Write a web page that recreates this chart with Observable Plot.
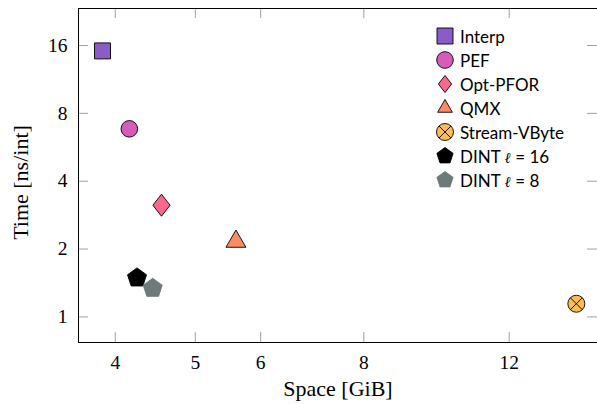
<!DOCTYPE html>
<html><head><meta charset="utf-8">
<script src="https://cdn.jsdelivr.net/npm/d3@7"></script>
<script src="https://cdn.jsdelivr.net/npm/@observablehq/plot@0.6"></script>
<style>
body{margin:0;background:#fff;}
#wrap{position:relative;width:597px;height:404px;overflow:hidden;}
#legend{position:absolute;left:435px;top:24px;font-family:Lato,sans-serif;font-size:17px;color:#000;}
.row{display:flex;align-items:center;height:24px;white-space:nowrap;}
.row svg{width:20px;height:24px;margin-right:5px;overflow:visible;}
.ell{font-family:"DejaVu Serif",serif;font-style:italic;font-size:15px;}
</style></head><body><div id="wrap"><div id="legend"></div></div>
<script>
// ---- data ----
const methods = ["Interp", "PEF", "Opt-PFOR", "QMX", "Stream-VByte", "DINT ℓ = 16", "DINT ℓ = 8"];
const space = [3.86, 4.16, 4.55, 5.60, 14.47, 4.25, 4.44];   // GiB
const time  = [15.14, 6.83, 3.13, 2.16, 1.144, 1.49, 1.34];  // ns/int
const xTicks = [4, 5, 6, 8, 12];
const yTicks = [1, 2, 4, 8, 16];
const xDomain = [3.61, 15.35];
const yDomain = [0.770, 23.35];

// ---- styles ----
const colors  = ["#8a5cc8", "#d65cb8", "#fa688c", "#fa8c64", "#f9bd57", "#000000", "#6e7a7a"];
const strokes = ["#000", "#000", "#000", "#000", "#000", "#000", "#6e7a7a"];
const shapes  = ["square", "circle", "diamond", "triangle", "otimes", "pentagon", "pentagon"];
const radii   = [8, 8.3, 11, 11.5, 8.5, 10, 10];

function poly(ctx, n, r) {
  for (let i = 0; i < n; i++) {
    const a = -Math.PI / 2 + i * 2 * Math.PI / n;
    const px = r * Math.cos(a), py = r * Math.sin(a);
    if (i === 0) ctx.moveTo(px, py); else ctx.lineTo(px, py);
  }
  ctx.closePath();
}
function sym(kind) {
  return {draw(ctx, size) {
    const r = Math.sqrt(size / Math.PI);
    if (kind === "square") { ctx.moveTo(-r, -r); ctx.lineTo(r, -r); ctx.lineTo(r, r); ctx.lineTo(-r, r); ctx.closePath(); }
    else if (kind === "circle") { ctx.moveTo(r, 0); ctx.arc(0, 0, r, 0, 2 * Math.PI); }
    else if (kind === "diamond") { const w = r * 0.78; ctx.moveTo(0, -r); ctx.lineTo(w, 0); ctx.lineTo(0, r); ctx.lineTo(-w, 0); ctx.closePath(); }
    else if (kind === "triangle") poly(ctx, 3, r);
    else if (kind === "pentagon") poly(ctx, 5, r);
    else if (kind === "otimes") {
      ctx.moveTo(r, 0); ctx.arc(0, 0, r, 0, 2 * Math.PI);
      const k = r * Math.SQRT1_2;
      ctx.moveTo(-k, -k); ctx.lineTo(k, k); ctx.moveTo(k, -k); ctx.lineTo(-k, k);
    }
  }};
}

const W = 597, H = 404, mL = 78, mR = 0, mT = 8, mB = 62;
const innerW = W - mL - mR, innerH = H - mT - mB, tick = 10;
const tickColor = "#a0a0a0";

const dotMarks = methods.map((m, i) => Plot.dot([{space: space[i], time: time[i]}], {
  x: "space", y: "time", symbol: sym(shapes[i]), r: radii[i],
  fill: colors[i], stroke: strokes[i], strokeWidth: 0.9
}));

const chart = Plot.plot({
  width: W, height: H,
  marginLeft: mL, marginRight: mR, marginTop: mT, marginBottom: mB,
  style: {fontFamily: "'Liberation Serif', serif", fontSize: "19px", color: "#000", background: "#fff"},
  x: {type: "log", domain: xDomain, axis: null},
  y: {type: "log", domain: yDomain, axis: null},
  marks: [
    // inward ticks on all four sides
    Plot.ruleX(xTicks, {x: d => d, insetTop: innerH - tick, stroke: tickColor}),
    Plot.ruleX(xTicks, {x: d => d, insetBottom: innerH - tick, stroke: tickColor}),
    Plot.ruleY(yTicks, {y: d => d, insetRight: innerW - tick, stroke: tickColor}),
    Plot.ruleY(yTicks, {y: d => d, insetLeft: innerW - tick, stroke: tickColor}),
    // frame lines (left, bottom, top)
    Plot.ruleX([xDomain[0]], {stroke: "#000", strokeWidth: 1}),
    Plot.ruleY([yDomain[0]], {stroke: "#000", strokeWidth: 1}),
    Plot.ruleY([yDomain[1]], {stroke: "#000", strokeWidth: 1}),
    // tick labels
    Plot.text(xTicks, {x: d => d, frameAnchor: "bottom", lineAnchor: "top", dy: 13, text: d => String(d), fontSize: 19.5}),
    Plot.text(yTicks, {y: d => d, frameAnchor: "left", textAnchor: "end", dx: -11, text: d => String(d), fontSize: 19.5}),
    // axis labels
    Plot.text(["Space [GiB]"], {frameAnchor: "bottom", dy: 53, fontSize: 22, textAnchor: "middle"}),
    Plot.text(["Time [ns/int]"], {frameAnchor: "left", dx: -58, dy: 7, rotate: -90, fontSize: 22, textAnchor: "middle"}),
    ...dotMarks
  ]
});
document.getElementById("wrap").prepend(chart);

// legend
const legend = d3.select("#legend");
methods.forEach((m, i) => {
  const row = legend.append("div").attr("class", "row");
  const s = row.append("svg").attr("viewBox", "-10 -12 20 24");
  const p = d3.path();
  const rr = Math.min(radii[i], 8.5);
  sym(shapes[i]).draw(p, Math.PI * rr * rr);
  s.append("path").attr("d", p.toString()).attr("fill", colors[i]).attr("stroke", strokes[i]).attr("stroke-width", 0.9);
  const label = row.append("span");
  if (m.includes("ℓ")) {
    const parts = m.split("ℓ");
    label.append("span").text(parts[0]);
    label.append("span").attr("class", "ell").text("ℓ");
    label.append("span").text(parts[1]);
  } else label.text(m);
});
</script></body></html>
